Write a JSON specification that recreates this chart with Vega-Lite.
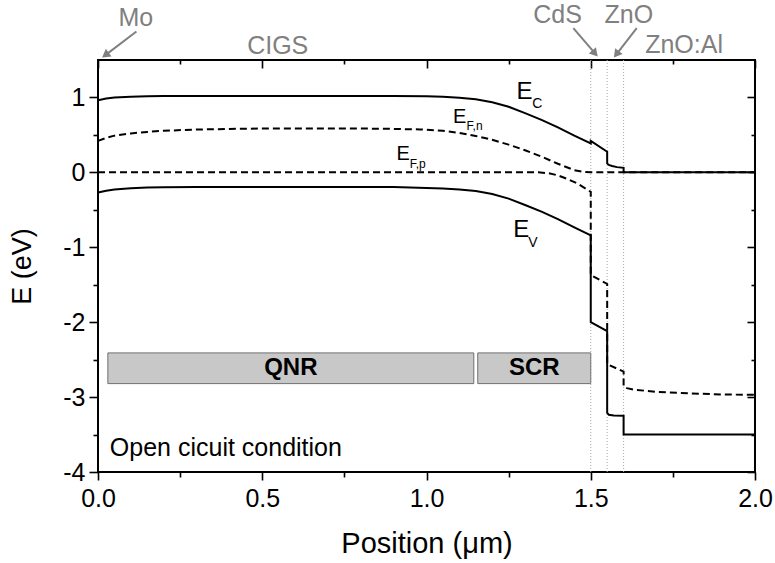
{
  "$schema": "https://vega.github.io/schema/vega-lite/v6.json",
  "width": 657,
  "height": 412,
  "autosize": {"type": "none"},
  "padding": {"left": 98, "top": 60, "right": 20, "bottom": 91},
  "background": "white",
  "config": {
    "font": "Liberation Sans",
    "view": {"stroke": "black", "strokeWidth": 2},
    "axis": {
      "grid": false,
      "domain": false,
      "tickColor": "black",
      "tickWidth": 1.6,
      "labelColor": "black",
      "titleColor": "black",
      "labelFont": "Liberation Sans",
      "titleFont": "Liberation Sans",
      "titleFontWeight": "normal",
      "labelFlush": false,
      "labelOverlap": false
    }
  },
  "datasets": {
    "bands": [
      {"s": "Ec", "i": 1, "x": 0, "y": 0.964},
      {"s": "Ec", "i": 2, "x": 0.025, "y": 0.985},
      {"s": "Ec", "i": 3, "x": 0.05, "y": 0.998},
      {"s": "Ec", "i": 4, "x": 0.1, "y": 1.01},
      {"s": "Ec", "i": 5, "x": 0.15, "y": 1.016},
      {"s": "Ec", "i": 6, "x": 0.2, "y": 1.019},
      {"s": "Ec", "i": 7, "x": 0.3, "y": 1.02},
      {"s": "Ec", "i": 8, "x": 0.6, "y": 1.02},
      {"s": "Ec", "i": 9, "x": 0.9, "y": 1.019},
      {"s": "Ec", "i": 10, "x": 1.0, "y": 1.015},
      {"s": "Ec", "i": 11, "x": 1.05, "y": 1.008},
      {"s": "Ec", "i": 12, "x": 1.1, "y": 0.995},
      {"s": "Ec", "i": 13, "x": 1.15, "y": 0.975},
      {"s": "Ec", "i": 14, "x": 1.2, "y": 0.935},
      {"s": "Ec", "i": 15, "x": 1.25, "y": 0.875},
      {"s": "Ec", "i": 16, "x": 1.3, "y": 0.79},
      {"s": "Ec", "i": 17, "x": 1.35, "y": 0.7},
      {"s": "Ec", "i": 18, "x": 1.4, "y": 0.6},
      {"s": "Ec", "i": 19, "x": 1.45, "y": 0.49},
      {"s": "Ec", "i": 20, "x": 1.5, "y": 0.385},
      {"s": "Ec", "i": 21, "x": 1.5, "y": 0.42},
      {"s": "Ec", "i": 22, "x": 1.55, "y": 0.275},
      {"s": "Ec", "i": 23, "x": 1.55, "y": 0.12},
      {"s": "Ec", "i": 24, "x": 1.555, "y": 0.1},
      {"s": "Ec", "i": 25, "x": 1.565, "y": 0.085},
      {"s": "Ec", "i": 26, "x": 1.58, "y": 0.07},
      {"s": "Ec", "i": 27, "x": 1.6, "y": 0.06},
      {"s": "Ec", "i": 28, "x": 1.6, "y": 0.0},
      {"s": "Ec", "i": 29, "x": 2.0, "y": 0.0},
      {"s": "Ev", "i": 1, "x": 0, "y": -0.27},
      {"s": "Ev", "i": 2, "x": 0.025, "y": -0.245},
      {"s": "Ev", "i": 3, "x": 0.05, "y": -0.228},
      {"s": "Ev", "i": 4, "x": 0.1, "y": -0.212},
      {"s": "Ev", "i": 5, "x": 0.15, "y": -0.203},
      {"s": "Ev", "i": 6, "x": 0.2, "y": -0.198},
      {"s": "Ev", "i": 7, "x": 0.3, "y": -0.195},
      {"s": "Ev", "i": 8, "x": 0.9, "y": -0.196},
      {"s": "Ev", "i": 9, "x": 1.0, "y": -0.21},
      {"s": "Ev", "i": 10, "x": 1.05, "y": -0.217},
      {"s": "Ev", "i": 11, "x": 1.1, "y": -0.23},
      {"s": "Ev", "i": 12, "x": 1.15, "y": -0.25},
      {"s": "Ev", "i": 13, "x": 1.2, "y": -0.29},
      {"s": "Ev", "i": 14, "x": 1.25, "y": -0.35},
      {"s": "Ev", "i": 15, "x": 1.3, "y": -0.435},
      {"s": "Ev", "i": 16, "x": 1.35, "y": -0.525},
      {"s": "Ev", "i": 17, "x": 1.4, "y": -0.625},
      {"s": "Ev", "i": 18, "x": 1.45, "y": -0.735},
      {"s": "Ev", "i": 19, "x": 1.5, "y": -0.84},
      {"s": "Ev", "i": 20, "x": 1.5, "y": -2.0},
      {"s": "Ev", "i": 21, "x": 1.55, "y": -2.12},
      {"s": "Ev", "i": 22, "x": 1.55, "y": -3.21},
      {"s": "Ev", "i": 23, "x": 1.555, "y": -3.235},
      {"s": "Ev", "i": 24, "x": 1.57, "y": -3.245},
      {"s": "Ev", "i": 25, "x": 1.6, "y": -3.25},
      {"s": "Ev", "i": 26, "x": 1.6, "y": -3.5},
      {"s": "Ev", "i": 27, "x": 2.0, "y": -3.5}
    ],
    "fermi": [
      {"s": "EFn", "i": 1, "x": 0, "y": 0.42},
      {"s": "EFn", "i": 2, "x": 0.025, "y": 0.46},
      {"s": "EFn", "i": 3, "x": 0.05, "y": 0.49},
      {"s": "EFn", "i": 4, "x": 0.075, "y": 0.505},
      {"s": "EFn", "i": 5, "x": 0.1, "y": 0.52},
      {"s": "EFn", "i": 6, "x": 0.15, "y": 0.54},
      {"s": "EFn", "i": 7, "x": 0.2, "y": 0.555},
      {"s": "EFn", "i": 8, "x": 0.3, "y": 0.572},
      {"s": "EFn", "i": 9, "x": 0.4, "y": 0.58},
      {"s": "EFn", "i": 10, "x": 0.5, "y": 0.585},
      {"s": "EFn", "i": 11, "x": 0.6, "y": 0.587},
      {"s": "EFn", "i": 12, "x": 0.7, "y": 0.587},
      {"s": "EFn", "i": 13, "x": 0.8, "y": 0.585},
      {"s": "EFn", "i": 14, "x": 0.9, "y": 0.58},
      {"s": "EFn", "i": 15, "x": 0.98, "y": 0.573},
      {"s": "EFn", "i": 16, "x": 1.05, "y": 0.555},
      {"s": "EFn", "i": 17, "x": 1.1, "y": 0.525},
      {"s": "EFn", "i": 18, "x": 1.15, "y": 0.485},
      {"s": "EFn", "i": 19, "x": 1.2, "y": 0.435},
      {"s": "EFn", "i": 20, "x": 1.25, "y": 0.37},
      {"s": "EFn", "i": 21, "x": 1.3, "y": 0.295},
      {"s": "EFn", "i": 22, "x": 1.35, "y": 0.21},
      {"s": "EFn", "i": 23, "x": 1.4, "y": 0.115},
      {"s": "EFn", "i": 24, "x": 1.45, "y": 0.03},
      {"s": "EFn", "i": 25, "x": 1.48, "y": 0.005},
      {"s": "EFn", "i": 26, "x": 1.5, "y": 0},
      {"s": "EFn", "i": 27, "x": 2.0, "y": 0},
      {"s": "EFp", "i": 1, "x": 0, "y": 0},
      {"s": "EFp", "i": 2, "x": 1.34, "y": 0},
      {"s": "EFp", "i": 3, "x": 1.37, "y": -0.01},
      {"s": "EFp", "i": 4, "x": 1.4, "y": -0.04},
      {"s": "EFp", "i": 5, "x": 1.43, "y": -0.09},
      {"s": "EFp", "i": 6, "x": 1.46, "y": -0.15},
      {"s": "EFp", "i": 7, "x": 1.5, "y": -0.26},
      {"s": "EFp", "i": 8, "x": 1.5, "y": -1.37},
      {"s": "EFp", "i": 9, "x": 1.55, "y": -1.49},
      {"s": "EFp", "i": 10, "x": 1.55, "y": -2.56},
      {"s": "EFp", "i": 11, "x": 1.6, "y": -2.66},
      {"s": "EFp", "i": 12, "x": 1.6, "y": -2.86},
      {"s": "EFp", "i": 13, "x": 1.61, "y": -2.88},
      {"s": "EFp", "i": 14, "x": 1.63, "y": -2.9},
      {"s": "EFp", "i": 15, "x": 1.7, "y": -2.93},
      {"s": "EFp", "i": 16, "x": 1.8, "y": -2.95},
      {"s": "EFp", "i": 17, "x": 1.9, "y": -2.965},
      {"s": "EFp", "i": 18, "x": 2.0, "y": -2.97}
    ],
    "interfaces": [{"x": 1.5}, {"x": 1.55}, {"x": 1.6}],
    "regions": [
      {"name": "QNR", "x": 0.03, "x2": 1.144, "y": -2.41, "y2": -2.82, "xm": 0.587, "ym": -2.615},
      {"name": "SCR", "x": 1.156, "x2": 1.5, "y": -2.41, "y2": -2.82, "xm": 1.328, "ym": -2.615}
    ],
    "layers": [
      {"t": "Mo", "x": 0.115, "y": 1.95},
      {"t": "CIGS", "x": 0.547, "y": 1.585},
      {"t": "CdS", "x": 1.399, "y": 1.995},
      {"t": "ZnO", "x": 1.616, "y": 1.995},
      {"t": "ZnO:Al", "x": 1.784, "y": 1.59}
    ],
    "arrows": [
      {"name": "Mo", "x": 0.117, "y": 1.88, "x2": 0.0225, "y2": 1.565},
      {"name": "CdS", "x": 1.447, "y": 1.926, "x2": 1.513, "y2": 1.588},
      {"name": "ZnO", "x": 1.64, "y": 1.926, "x2": 1.578, "y2": 1.576}
    ],
    "bigE": [
      {"t": "E", "x": 1.274, "y": 0.975},
      {"t": "E", "x": 1.264, "y": -0.865}
    ],
    "bigSub": [
      {"t": "C", "x": 1.322, "y": 0.86},
      {"t": "V", "x": 1.31, "y": -1.0}
    ],
    "smallE": [
      {"t": "E", "x": 1.081, "y": 0.663},
      {"t": "E", "x": 0.909, "y": 0.164}
    ],
    "smallSub": [
      {"t": "F,n", "x": 1.122, "y": 0.56},
      {"t": "F,p", "x": 0.949, "y": 0.062}
    ],
    "note": [{"t": "Open cicuit condition", "x": 0.036, "y": -3.79}],
    "origin": [{"x": 0, "y": 0}]
  },
  "resolve": {"axis": {"x": "independent", "y": "independent"}},
  "layer": [
    {
      "data": {"name": "interfaces"},
      "mark": {"type": "rule", "color": "#aaaaaa", "strokeWidth": 1, "strokeDash": [1, 2]},
      "encoding": {
        "x": {"field": "x", "type": "quantitative", "scale": {"domain": [0, 2], "nice": false, "zero": false}, "axis": null},
        "y": {"datum": -4, "type": "quantitative", "scale": {"domain": [-4, 1.5], "nice": false, "zero": false}, "axis": null},
        "y2": {"datum": 1.5}
      }
    },
    {
      "data": {"name": "regions"},
      "mark": {"type": "rect", "fill": "#c8c8c8", "stroke": "#707070", "strokeWidth": 1},
      "encoding": {
        "x": {"field": "x", "type": "quantitative", "scale": {"domain": [0, 2], "nice": false, "zero": false}, "axis": null},
        "x2": {"field": "x2"},
        "y": {"field": "y", "type": "quantitative", "scale": {"domain": [-4, 1.5], "nice": false, "zero": false}, "axis": null},
        "y2": {"field": "y2"}
      }
    },
    {
      "data": {"name": "regions"},
      "mark": {"type": "text", "fontSize": 24, "fontWeight": "bold", "color": "black", "align": "center", "baseline": "middle"},
      "encoding": {
        "x": {"field": "xm", "type": "quantitative", "scale": {"domain": [0, 2], "nice": false, "zero": false}, "axis": null},
        "y": {"field": "ym", "type": "quantitative", "scale": {"domain": [-4, 1.5], "nice": false, "zero": false}, "axis": null},
        "text": {"field": "name"}
      }
    },
    {
      "data": {"name": "fermi"},
      "mark": {"type": "line", "color": "black", "strokeWidth": 2, "strokeDash": [7, 4]},
      "encoding": {
        "x": {"field": "x", "type": "quantitative", "scale": {"domain": [0, 2], "nice": false, "zero": false}, "axis": null},
        "y": {"field": "y", "type": "quantitative", "scale": {"domain": [-4, 1.5], "nice": false, "zero": false}, "axis": null},
        "detail": {"field": "s"},
        "order": {"field": "i", "type": "quantitative"}
      }
    },
    {
      "data": {"name": "bands"},
      "mark": {"type": "line", "color": "black", "strokeWidth": 2},
      "encoding": {
        "x": {"field": "x", "type": "quantitative", "scale": {"domain": [0, 2], "nice": false, "zero": false}, "axis": null},
        "y": {"field": "y", "type": "quantitative", "scale": {"domain": [-4, 1.5], "nice": false, "zero": false}, "axis": null},
        "detail": {"field": "s"},
        "order": {"field": "i", "type": "quantitative"}
      }
    },
    {
      "data": {"name": "bigE"},
      "mark": {"type": "text", "fontSize": 24, "color": "black", "align": "left", "baseline": "alphabetic"},
      "encoding": {
        "x": {"field": "x", "type": "quantitative", "scale": {"domain": [0, 2], "nice": false, "zero": false}, "axis": null},
        "y": {"field": "y", "type": "quantitative", "scale": {"domain": [-4, 1.5], "nice": false, "zero": false}, "axis": null},
        "text": {"field": "t"}
      }
    },
    {
      "data": {"name": "bigSub"},
      "mark": {"type": "text", "fontSize": 14, "color": "black", "align": "left", "baseline": "alphabetic"},
      "encoding": {
        "x": {"field": "x", "type": "quantitative", "scale": {"domain": [0, 2], "nice": false, "zero": false}, "axis": null},
        "y": {"field": "y", "type": "quantitative", "scale": {"domain": [-4, 1.5], "nice": false, "zero": false}, "axis": null},
        "text": {"field": "t"}
      }
    },
    {
      "data": {"name": "smallE"},
      "mark": {"type": "text", "fontSize": 20, "color": "black", "align": "left", "baseline": "alphabetic"},
      "encoding": {
        "x": {"field": "x", "type": "quantitative", "scale": {"domain": [0, 2], "nice": false, "zero": false}, "axis": null},
        "y": {"field": "y", "type": "quantitative", "scale": {"domain": [-4, 1.5], "nice": false, "zero": false}, "axis": null},
        "text": {"field": "t"}
      }
    },
    {
      "data": {"name": "smallSub"},
      "mark": {"type": "text", "fontSize": 12, "color": "black", "align": "left", "baseline": "alphabetic"},
      "encoding": {
        "x": {"field": "x", "type": "quantitative", "scale": {"domain": [0, 2], "nice": false, "zero": false}, "axis": null},
        "y": {"field": "y", "type": "quantitative", "scale": {"domain": [-4, 1.5], "nice": false, "zero": false}, "axis": null},
        "text": {"field": "t"}
      }
    },
    {
      "data": {"name": "note"},
      "mark": {"type": "text", "fontSize": 25, "color": "black", "align": "left", "baseline": "alphabetic"},
      "encoding": {
        "x": {"field": "x", "type": "quantitative", "scale": {"domain": [0, 2], "nice": false, "zero": false}, "axis": null},
        "y": {"field": "y", "type": "quantitative", "scale": {"domain": [-4, 1.5], "nice": false, "zero": false}, "axis": null},
        "text": {"field": "t"}
      }
    },
    {
      "data": {"name": "layers"},
      "mark": {"type": "text", "fontSize": 25, "color": "#808080", "align": "center", "baseline": "alphabetic"},
      "encoding": {
        "x": {"field": "x", "type": "quantitative", "scale": {"domain": [0, 2], "nice": false, "zero": false}, "axis": null},
        "y": {"field": "y", "type": "quantitative", "scale": {"domain": [-4, 1.5], "nice": false, "zero": false}, "axis": null},
        "text": {"field": "t"}
      }
    },
    {
      "data": {"name": "arrows"},
      "mark": {"type": "rule", "color": "#808080", "strokeWidth": 2},
      "encoding": {
        "x": {"field": "x", "type": "quantitative", "scale": {"domain": [0, 2], "nice": false, "zero": false}, "axis": null},
        "y": {"field": "y", "type": "quantitative", "scale": {"domain": [-4, 1.5], "nice": false, "zero": false}, "axis": null},
        "x2": {"field": "x2"},
        "y2": {"field": "y2"}
      }
    },
    {
      "data": {"name": "arrows"},
      "transform": [{"filter": "datum.name === 'Mo'"}],
      "mark": {"type": "point", "shape": "triangle-up", "filled": true, "color": "#808080", "size": 90, "opacity": 1, "angle": 233},
      "encoding": {
        "x": {"field": "x2", "type": "quantitative", "scale": {"domain": [0, 2], "nice": false, "zero": false}, "axis": null},
        "y": {"field": "y2", "type": "quantitative", "scale": {"domain": [-4, 1.5], "nice": false, "zero": false}, "axis": null}
      }
    },
    {
      "data": {"name": "arrows"},
      "transform": [{"filter": "datum.name === 'CdS'"}],
      "mark": {"type": "point", "shape": "triangle-up", "filled": true, "color": "#808080", "size": 90, "opacity": 1, "angle": 139},
      "encoding": {
        "x": {"field": "x2", "type": "quantitative", "scale": {"domain": [0, 2], "nice": false, "zero": false}, "axis": null},
        "y": {"field": "y2", "type": "quantitative", "scale": {"domain": [-4, 1.5], "nice": false, "zero": false}, "axis": null}
      }
    },
    {
      "data": {"name": "arrows"},
      "transform": [{"filter": "datum.name === 'ZnO'"}],
      "mark": {"type": "point", "shape": "triangle-up", "filled": true, "color": "#808080", "size": 90, "opacity": 1, "angle": 218},
      "encoding": {
        "x": {"field": "x2", "type": "quantitative", "scale": {"domain": [0, 2], "nice": false, "zero": false}, "axis": null},
        "y": {"field": "y2", "type": "quantitative", "scale": {"domain": [-4, 1.5], "nice": false, "zero": false}, "axis": null}
      }
    },
    {
      "data": {"name": "origin"},
      "mark": {"type": "point", "opacity": 0},
      "encoding": {
        "x": {"field": "x", "type": "quantitative", "scale": {"domain": [0, 2], "nice": false, "zero": false},
          "axis": {"orient": "bottom", "values": [0, 0.5, 1, 1.5, 2], "format": ".1f", "tickSize": 8, "labelFontSize": 25, "labelPadding": 6, "title": "Position (μm)", "titleFontSize": 29, "titlePadding": 18}},
        "y": {"field": "y", "type": "quantitative", "scale": {"domain": [-4, 1.5], "nice": false, "zero": false},
          "axis": {"orient": "left", "values": [-4, -3, -2, -1, 0, 1], "format": "d", "labelExpr": "replace(datum.label, '\u2212', '-')", "tickSize": 9, "labelFontSize": 25, "labelPadding": 4, "title": "E (eV)", "titleFontSize": 27, "titlePadding": 26}}
      }
    },
    {
      "data": {"name": "origin"},
      "mark": {"type": "point", "opacity": 0},
      "encoding": {
        "x": {"field": "x", "type": "quantitative", "scale": {"domain": [0, 2], "nice": false, "zero": false},
          "axis": {"orient": "bottom", "values": [0.25, 0.75, 1.25, 1.75], "labels": false, "tickSize": 5, "title": null}},
        "y": {"field": "y", "type": "quantitative", "scale": {"domain": [-4, 1.5], "nice": false, "zero": false},
          "axis": {"orient": "left", "values": [-3.5, -2.5, -1.5, -0.5, 0.5], "labels": false, "tickSize": 5, "title": null}}
      }
    },
    {
      "data": {"name": "origin"},
      "mark": {"type": "point", "opacity": 0},
      "encoding": {
        "x": {"field": "x", "type": "quantitative", "scale": {"domain": [0, 2], "nice": false, "zero": false},
          "axis": {"orient": "top", "values": [0, 0.5, 1, 1.5, 2], "labels": false, "tickSize": -8, "title": null}},
        "y": {"field": "y", "type": "quantitative", "scale": {"domain": [-4, 1.5], "nice": false, "zero": false},
          "axis": {"orient": "right", "values": [-4, -3, -2, -1, 0, 1], "labels": false, "tickSize": -8, "title": null}}
      }
    },
    {
      "data": {"name": "origin"},
      "mark": {"type": "point", "opacity": 0},
      "encoding": {
        "x": {"field": "x", "type": "quantitative", "scale": {"domain": [0, 2], "nice": false, "zero": false},
          "axis": {"orient": "top", "values": [0.25, 0.75, 1.25, 1.75], "labels": false, "tickSize": -4, "title": null}},
        "y": {"field": "y", "type": "quantitative", "scale": {"domain": [-4, 1.5], "nice": false, "zero": false},
          "axis": {"orient": "right", "values": [-3.5, -2.5, -1.5, -0.5, 0.5], "labels": false, "tickSize": -4, "title": null}}
      }
    }
  ]
}
